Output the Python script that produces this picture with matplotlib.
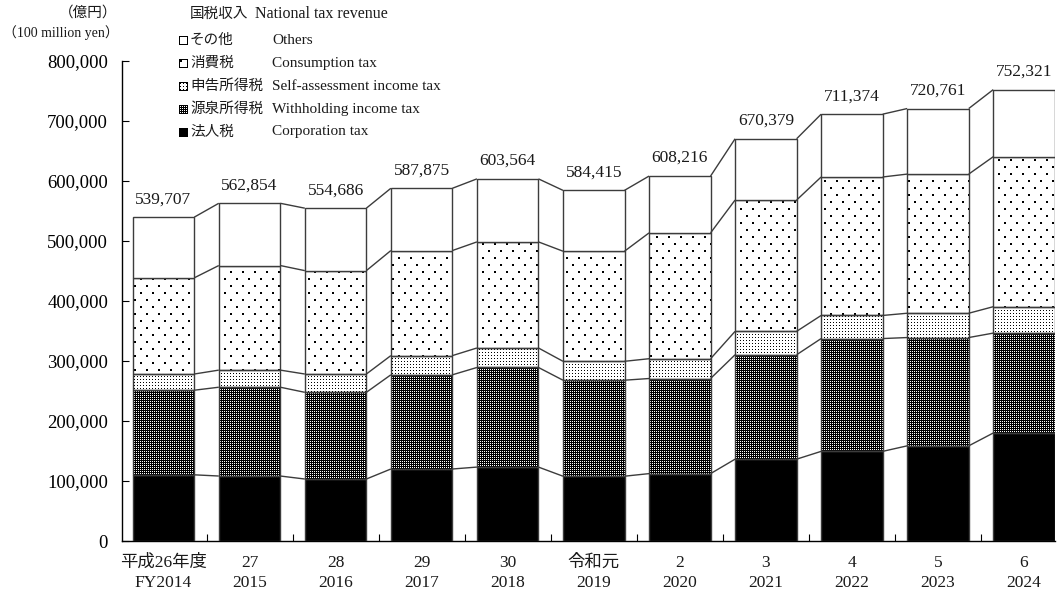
import matplotlib
matplotlib.use("Agg")
import matplotlib.pyplot as plt
import numpy as np
from matplotlib.path import Path

FIG_W, FIG_H = 1058, 594

# 億円
years_jp = ["平成26年度", "27", "28", "29", "30", "令和元", "2", "3", "4", "5", "6"]
years_en = ["FY2014", "2015", "2016", "2017", "2018", "2019", "2020", "2021", "2022", "2023", "2024"]
corporation = [110300, 108300, 103300, 120000, 123200, 108000, 112300, 136400, 149400, 158600, 180000]
withholding = [141000, 148000, 144500, 157000, 166000, 160000, 158500, 174000, 188000, 180500, 166500]
self_assessment = [27000, 28500, 30500, 32000, 32500, 31500, 33000, 39000, 38500, 40500, 44000]
consumption = [160300, 174300, 172300, 175100, 176800, 183500, 209700, 218900, 230800, 231900, 250000]
totals = [539707, 562854, 554686, 587875, 603564, 584415, 608216, 670379, 711374, 720761, 752321]

legend_jp = ["その他", "消費税", "申告所得税", "源泉所得税", "法人税"]
legend_en = ["Others", "Consumption tax", "Self-assessment income tax",
             "Withholding income tax", "Corporation tax"]

EDGE = "#3c3c3c"
TEXT = "#1a1a1a"
BAR_W = 0.715

plt.rcParams["font.family"] = ["Liberation Serif", "Noto Sans CJK JP"]
plt.rcParams["text.color"] = TEXT


def sparse_dots(h, w):
    yy, xx = np.mgrid[0:h, 0:w]
    row = yy // 7
    cx = (xx + 6 * (row % 2)) % 12
    return ((yy % 7) < 2) & (cx < 2)


def fine_dots(h, w):
    yy, xx = np.mgrid[0:h, 0:w]
    return (yy % 3 == 0) & (xx % 3 == 0)


def checker(h, w):
    yy, xx = np.mgrid[0:h, 0:w]
    return ~((yy % 2 == 0) & (xx % 2 == 0))


def to_rgba(mask):
    img = np.ones(mask.shape + (4,))
    img[mask, :3] = 0.0
    return img


def px(x, y):
    return x / FIG_W, 1 - y / FIG_H


fig = plt.figure(figsize=(FIG_W / 100, FIG_H / 100), dpi=100)
ax = fig.add_axes([122 / FIG_W, 53 / FIG_H, 933 / FIG_W, 480 / FIG_H])
ax.set_xlim(-0.482, 10.36)
ax.set_ylim(0, 800000)

x = np.arange(len(years_en))
corp = np.array(corporation, dtype=float)
wh = np.array(withholding, dtype=float)
sa = np.array(self_assessment, dtype=float)
cons = np.array(consumption, dtype=float)
tot = np.array(totals, dtype=float)
others = tot - corp - wh - sa - cons

levels = [np.zeros_like(corp)]
for seg in (corp, wh, sa, cons, others):
    levels.append(levels[-1] + seg)

ax.bar(x, corp, BAR_W, color="black", edgecolor=EDGE, linewidth=1.0, zorder=3)

tex_h, tex_w = 480, 933
extent = (*ax.get_xlim(), *ax.get_ylim())
patterns = [(wh, checker), (sa, fine_dots), (cons, sparse_dots), (others, None)]
for k, (seg, fill) in enumerate(patterns):
    bottom = levels[k + 1]
    bars = ax.bar(x, seg, BAR_W, bottom=bottom, facecolor="none" if fill else "white",
                  edgecolor=EDGE, linewidth=1.0, zorder=3)
    if fill is None:
        continue
    clip = Path.make_compound_path(
        *[r.get_patch_transform().transform_path(r.get_path()) for r in bars]
    )
    im = ax.imshow(to_rgba(fill(tex_h, tex_w)), extent=extent, origin="upper",
                   interpolation="nearest", aspect="auto", zorder=2)
    im.set_clip_path(clip, ax.transData)

# connectors between neighbouring bars
for lev in levels[1:]:
    for i in range(len(x) - 1):
        ax.plot([x[i] + BAR_W / 2, x[i + 1] - BAR_W / 2], [lev[i], lev[i + 1]],
                color=EDGE, linewidth=1.0, zorder=4, solid_capstyle="butt")

for i, t in enumerate(totals):
    ax.annotate(f"{t:,}", (x[i], t), xytext=(0, 14), textcoords="offset pixels",
                ha="center", va="baseline", fontsize=12.5)

for i in range(len(x)):
    ax.annotate(years_jp[i], (x[i], 0), xycoords=("data", "axes fraction"),
                xytext=(0, -22), textcoords="offset pixels", ha="center", va="center",
                fontsize=12.5)
    ax.annotate(years_en[i], (x[i], 0), xycoords=("data", "axes fraction"),
                xytext=(0, -42), textcoords="offset pixels", ha="center", va="center",
                fontsize=12.5)

ax.set_xticks([])
ax.set_xticks(x[:-1] + 0.5, minor=True)
ax.tick_params(axis="x", which="minor", direction="in", length=5, width=0.8)
ax.set_yticks(np.arange(0, 800001, 100000))
ax.set_yticklabels([f"{v:,}" for v in range(0, 800001, 100000)])
ax.tick_params(axis="y", direction="in", length=5, width=0.8, pad=10, labelsize=13.5)
for side in ("top", "right"):
    ax.spines[side].set_visible(False)
for side in ("left", "bottom"):
    ax.spines[side].set_linewidth(1.0)
    ax.spines[side].set_color("black")

# unit labels
fig.text(*px(117, 13), "（億円）", ha="right", va="center", fontsize=10.5)
fig.text(*px(119, 33), "（100 million yen）", ha="right", va="center", fontsize=10)

# legend
fig.text(*px(190, 14), "国税収入", ha="left", va="center", fontsize=10.5)
fig.text(*px(255, 14), "National tax revenue", ha="left", va="center", fontsize=11.5)
rows_y = [40, 63, 86, 109, 132]
marker_fill = [None, sparse_dots, fine_dots, checker, "solid"]
for y, jp, en, fill in zip(rows_y, legend_jp, legend_en, marker_fill):
    size = 9
    if fill == "solid":
        mask = np.ones((size, size), dtype=bool)
    else:
        mask = np.zeros((size, size), dtype=bool)
        if fill is not None:
            mask[1:-1, 1:-1] = fill(size - 2, size - 2)
        mask[0, :] = mask[-1, :] = mask[:, 0] = mask[:, -1] = True
    fig.figimage(to_rgba(mask), xo=179, yo=FIG_H - (y + 5), origin="upper", zorder=5)
    fig.text(*px(190, y), jp, ha="left", va="center", fontsize=10.5)
    fig.text(*px(272, y), en, ha="left", va="center", fontsize=11)

fig.savefig("out.png", dpi=100)
